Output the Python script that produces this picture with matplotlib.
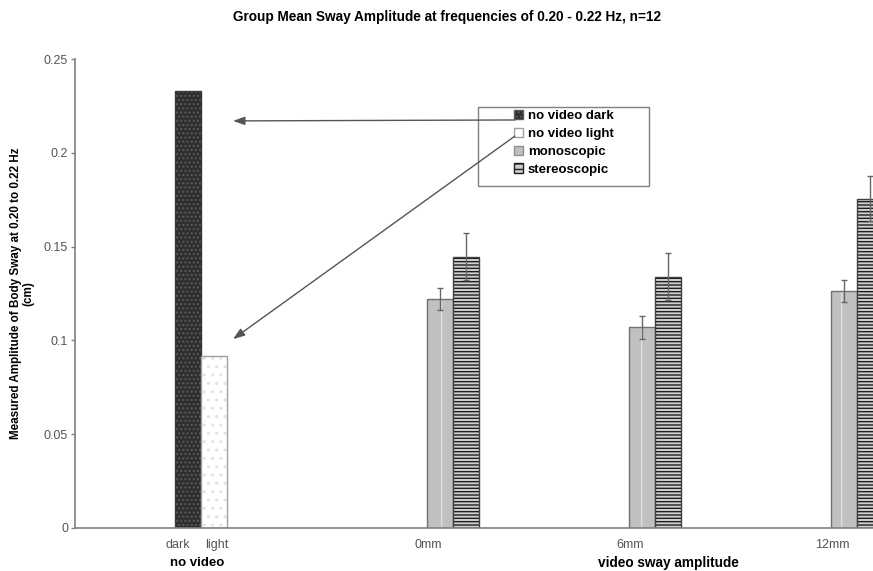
import numpy as np
import matplotlib
matplotlib.use("Agg")
import matplotlib.pyplot as plt
from matplotlib.patches import Patch, Rectangle

plt.rcParams['font.family'] = ['Liberation Sans', 'DejaVu Sans']
plt.rcParams['hatch.linewidth'] = 1.0

# values
nv_labels = ["dark", "light"]
nv_values = [0.233, 0.0917]

groups = ["0mm", "6mm", "12mm"]
mono = [0.122, 0.107, 0.1263]
mono_err = [0.006, 0.006, 0.006]
stereo = [0.1445, 0.134, 0.1754]
stereo_err = [0.0125, 0.0126, 0.012]

# layout (bar width = 1 unit)
w = 1.0
nv_left = 3.85
grp_left = 13.54
grp_step = 7.77

fig = plt.figure(figsize=(8.73, 5.71), dpi=100)
ax = fig.add_axes([75/873, 43/571, 808/873, 469/571])

def hatched_bar(x, h, face, hcol, hatch, edge):
    ax.bar(x, h, w, align='edge', color=face, edgecolor=hcol, hatch=hatch, linewidth=0)
    ax.bar(x, h, w, align='edge', fill=False, edgecolor=edge, linewidth=1.0)

# no video bars
hatched_bar(nv_left, nv_values[0], '#2e2e2e', '#5a5a5a', '....', '#3a3a3a')
hatched_bar(nv_left + w, nv_values[1], 'white', '#e2e2e2', '..', '#a0a0a0')

# video sway bars
xg = grp_left + grp_step * np.arange(len(groups))
for i in range(len(groups)):
    hatched_bar(xg[i], mono[i], '#c0c0c0', '#dedede', '|', '#707070')
    hatched_bar(xg[i] + w, stereo[i], '#cfcfcf', '#1e1e1e', '-----', '#404040')
ax.errorbar(xg + w/2, mono, yerr=mono_err, fmt='none', ecolor='#666666',
            elinewidth=1, capsize=2.5, capthick=1)
ax.errorbar(xg + 1.5*w, stereo, yerr=stereo_err, fmt='none', ecolor='#666666',
            elinewidth=1, capsize=2.5, capthick=1)

ax.set_xlim(0, 31.08)
ax.set_ylim(0, 0.25)
ax.set_yticks([0, 0.05, 0.1, 0.15, 0.2, 0.25])
ax.set_yticklabels(['0', '0.05', '0.1', '0.15', '0.2', '0.25'])
ax.tick_params(axis='y', length=3, width=1, color='#808080', labelsize=9,
               labelcolor='#555555', pad=2)

ticks = [nv_left + 0.12, nv_left + w + 0.62] + list(xg + 0.05)
ax.set_xticks(ticks)
ax.set_xticklabels(nv_labels + groups)
ax.tick_params(axis='x', length=0, labelsize=9, labelcolor='#555555', pad=8)

for s in ['top', 'right']:
    ax.spines[s].set_visible(False)
for s in ['left', 'bottom']:
    ax.spines[s].set_color('#808080')
    ax.spines[s].set_linewidth(1.2)

ax.set_ylabel('Measured Amplitude of Body Sway at 0.20 to 0.22 Hz\n(cm)',
              fontsize=8.4, fontweight='bold', linespacing=0.95)
ax.yaxis.set_label_coords(-41/808, 0.5)

fig.text(197/873, 1 - 563/571, 'no video', fontsize=9.5, fontweight='bold',
         ha='center', va='center')
fig.text(668/873, 1 - 563/571, 'video sway amplitude', fontsize=9.8,
         fontweight='bold', ha='center', va='center')
fig.text(447/873, 1 - 17/571,
         'Group Mean Sway Amplitude at frequencies of 0.20 - 0.22 Hz, n=12',
         fontsize=9.8, fontweight='bold', ha='center', va='center')

handles = [
    Patch(facecolor='#2e2e2e', edgecolor='#5a5a5a', hatch='....', label='no video dark'),
    Patch(facecolor='white', edgecolor='#a0a0a0', label='no video light'),
    Patch(facecolor='#c0c0c0', edgecolor='#909090', label='monoscopic'),
    Patch(facecolor='#cfcfcf', edgecolor='#1e1e1e', hatch='---', label='stereoscopic'),
]
leg = ax.legend(handles=handles, loc='upper left', bbox_transform=fig.transFigure,
                bbox_to_anchor=(514/873, 1 - 110/571), fontsize=9.5,
                frameon=False, handlelength=0.7, handleheight=0.7,
                handletextpad=0.35, labelspacing=0.42, borderpad=0, borderaxespad=0)
for t in leg.get_texts():
    t.set_fontweight('bold')
# legend frame
ax.add_patch(Rectangle((478/873, 1 - 186/571), 171/873, 79/571,
                       transform=fig.transFigure, fill=False,
                       edgecolor='#808080', lw=1.0, clip_on=False, zorder=4))

# arrows from legend to the no-video bars
arrowprops = dict(arrowstyle='-|>,head_length=0.7,head_width=0.25',
                  color='#555555', lw=1.0, shrinkA=0, shrinkB=0)
ax.annotate('', xy=(6.08, 0.217), xytext=(16.92, 0.2175), arrowprops=arrowprops,
            zorder=6)
ax.annotate('', xy=(6.08, 0.1007), xytext=(16.92, 0.2089), arrowprops=arrowprops,
            zorder=6)

fig.savefig('out.png', dpi=100)
